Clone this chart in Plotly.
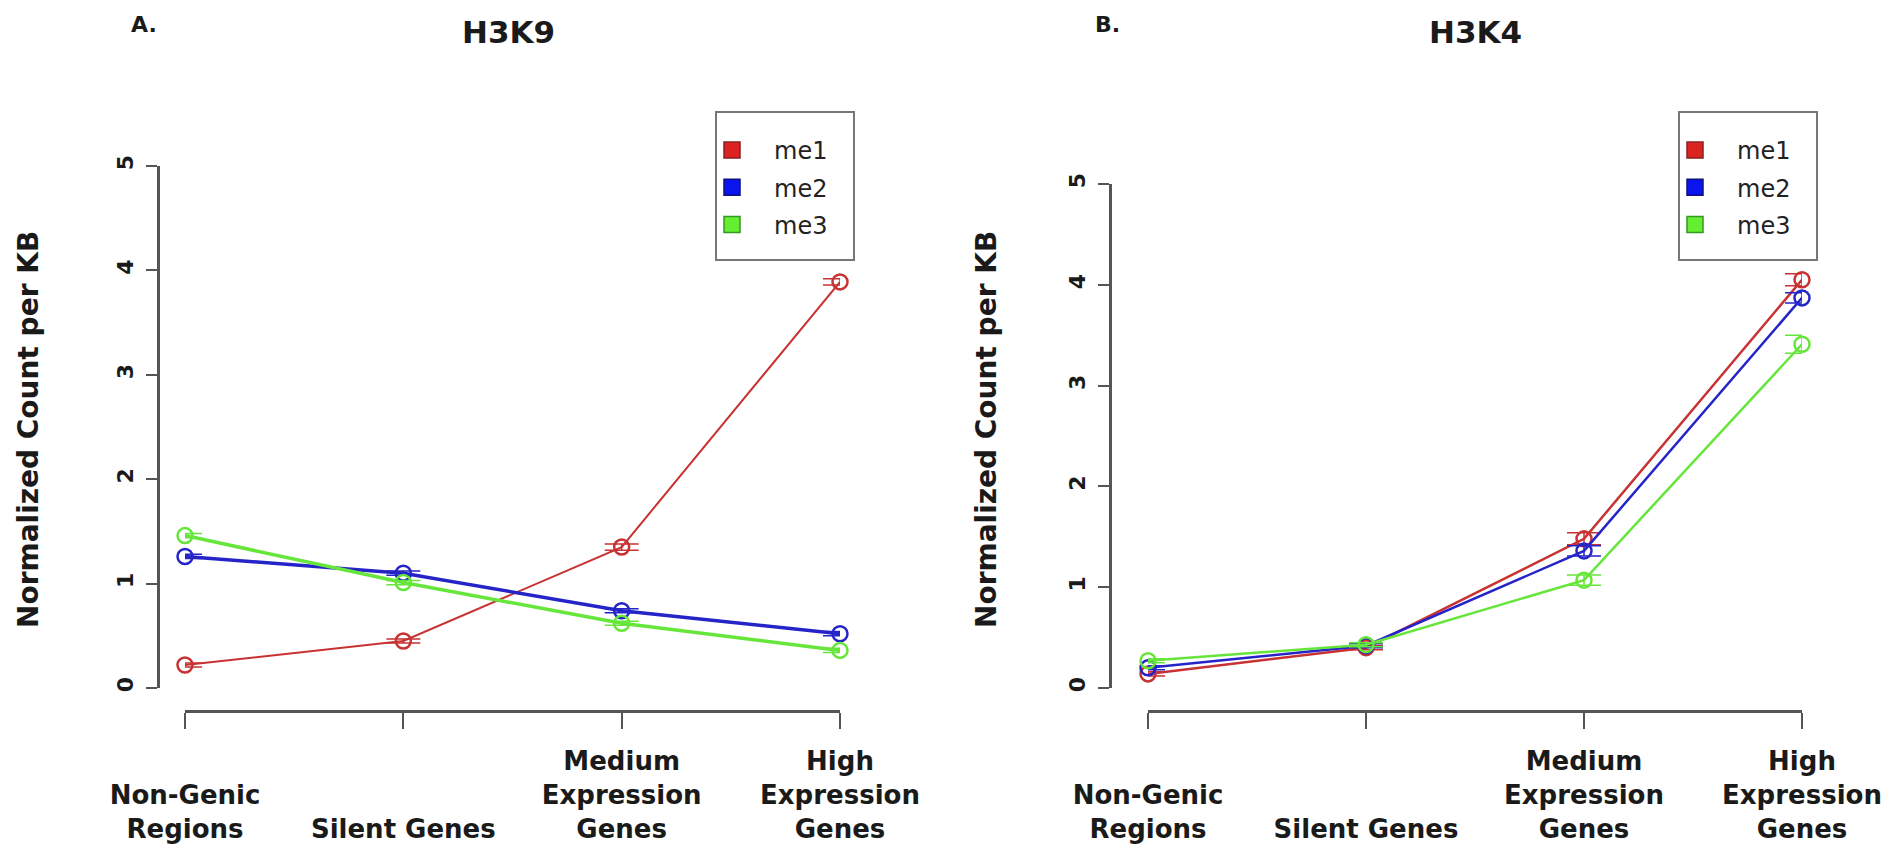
import plotly.graph_objects as go

# ---------------- data ----------------
categories = ["Non-Genic Regions", "Silent Genes", "Medium Expression Genes", "High Expression Genes"]
tick_labels = ["<br>Non-Genic<br>Regions", "<br><br>Silent Genes",
               "Medium<br>Expression<br>Genes", "High<br>Expression<br>Genes"]
series_names = ["me1", "me2", "me3"]
y_ticks = [0, 1, 2, 3, 4, 5]
y_title = "Normalized Count per KB"

h3k9_me1 = [0.22, 0.45, 1.35, 3.89]
h3k9_me2 = [1.26, 1.10, 0.74, 0.52]
h3k9_me3 = [1.46, 1.01, 0.62, 0.36]
h3k9_me1_err = [0.02, 0.02, 0.03, 0.03]
h3k9_me2_err = [0.02, 0.02, 0.02, 0.02]
h3k9_me3_err = [0.02, 0.02, 0.02, 0.02]

h3k4_me1 = [0.14, 0.40, 1.48, 4.05]
h3k4_me2 = [0.20, 0.42, 1.36, 3.87]
h3k4_me3 = [0.27, 0.43, 1.07, 3.41]
h3k4_me1_err = [0.02, 0.02, 0.06, 0.06]
h3k4_me2_err = [0.02, 0.02, 0.05, 0.05]
h3k4_me3_err = [0.02, 0.02, 0.05, 0.09]

# ---------------- style ----------------
line_colors = ["#c83232", "#2424c8", "#66e63a"]
swatch_fill = ["#dd2222", "#0a14ee", "#66ee33"]
swatch_edge = ["#882222", "#101080", "#339922"]
FONT = "DejaVu Sans"
AX = "#555555"
TXT = "#1a1a1a"
W, H = 1890, 860

panels = [
    dict(xa="x", ya="y", leg="legend",
         vals=[h3k9_me1, h3k9_me2, h3k9_me3], errs=[h3k9_me1_err, h3k9_me2_err, h3k9_me3_err],
         widths=[2, 3.5, 3.5]),
    dict(xa="x2", ya="y2", leg="legend2",
         vals=[h3k4_me1, h3k4_me2, h3k4_me3], errs=[h3k4_me1_err, h3k4_me2_err, h3k4_me3_err],
         widths=[2.5, 2.5, 2.5]),
]

fig = go.Figure()
for p in panels:
    for name, v, e, c, w in zip(series_names, p["vals"], p["errs"], line_colors, p["widths"]):
        fig.add_trace(go.Scatter(
            x=categories, y=v, mode="lines+markers", name=name, showlegend=False,
            xaxis=p["xa"], yaxis=p["ya"], cliponaxis=False,
            line=dict(color=c, width=w),
            marker=dict(symbol="circle-open", size=15, color=c, line=dict(width=2.5, color=c)),
            error_y=dict(type="data", array=e, color=c, thickness=1.5, width=17),
        ))
    for name, f, ed in zip(series_names, swatch_fill, swatch_edge):
        fig.add_trace(go.Scatter(
            x=[None], y=[None], mode="markers", name=name, legend=p["leg"],
            legendgroup=p["leg"] + name,
            xaxis=p["xa"], yaxis=p["ya"],
            marker=dict(symbol="square", size=16, color=f, line=dict(color=ed, width=1.5)),
        ))


def px_x(v):
    return v / W


def px_y(v):
    return 1 - v / H


def xaxis_cfg(x0, x1):
    return dict(
        domain=[px_x(x0), px_x(x1)], range=[0, 3], anchor="free", position=px_y(703),
        automargin=False,
        showline=True, linecolor=AX, linewidth=2.5, ticks="outside", ticklen=16,
        tickwidth=2, tickcolor=AX, tickmode="array", tickvals=categories, ticktext=tick_labels,
        tickfont=dict(family=FONT, size=26, color=TXT, weight="bold"),
        ticklabelstandoff=10, showgrid=False, zeroline=False, fixedrange=True,
    )


def yaxis_cfg(y0, y5, xline):
    return dict(
        domain=[px_y(y0), px_y(y5)], range=[0, 5], anchor="free", position=px_x(xline),
        automargin=False,
        showline=True, linecolor=AX, linewidth=2.5, ticks="outside", ticklen=11,
        tickwidth=2, tickcolor=AX, tickmode="array", tickvals=y_ticks, tickangle=-90,
        tickfont=dict(family=FONT, size=22, color=TXT, weight="bold"),
        ticklabelstandoff=4, showgrid=False, zeroline=False, fixedrange=True,
    )


legend_common = dict(
    bgcolor="rgba(0,0,0,0)", borderwidth=0, xanchor="left", yanchor="top",
    font=dict(family=FONT, size=24, color="#222222"), itemwidth=74,
    tracegroupgap=3,
)

fig.update_layout(
    width=W, height=H, margin=dict(l=0, r=0, t=0, b=0, autoexpand=False),
    paper_bgcolor="white", plot_bgcolor="white",
    xaxis=xaxis_cfg(177, 832), yaxis=yaxis_cfg(680, 158, 150),
    xaxis2=xaxis_cfg(1140, 1794), yaxis2=yaxis_cfg(680, 176, 1102),
    legend=dict(x=px_x(682), y=px_y(120), **legend_common),
    legend2=dict(x=px_x(1645), y=px_y(120), **legend_common),
    showlegend=True,
)

for title, tag, cx, tx, ytx in [("H3K9", "A.", 500, 136, 20), ("H3K4", "B.", 1467, 1099, 978)]:
    fig.add_annotation(text=title, x=px_x(cx), y=px_y(24), xref="paper", yref="paper",
                       showarrow=False, xanchor="center", yanchor="middle",
                       font=dict(family=FONT, size=31, color=TXT, weight="bold"))
    fig.add_annotation(text=tag, x=px_x(tx), y=px_y(17), xref="paper", yref="paper",
                       showarrow=False, xanchor="center", yanchor="middle",
                       font=dict(family=FONT, size=22, color=TXT, weight="bold"))
    fig.add_annotation(text=y_title, x=px_x(ytx), y=px_y(422), xref="paper", yref="paper",
                       showarrow=False, xanchor="center", yanchor="middle", textangle=-90,
                       font=dict(family=FONT, size=28, color=TXT, weight="bold"))

for x0, x1 in [(708, 846), (1671, 1809)]:
    fig.add_shape(type="rect", xref="paper", yref="paper",
                  x0=px_x(x0), x1=px_x(x1), y0=px_y(252), y1=px_y(104),
                  line=dict(color="#777777", width=2), fillcolor="rgba(0,0,0,0)")

fig.write_html("out.html")
